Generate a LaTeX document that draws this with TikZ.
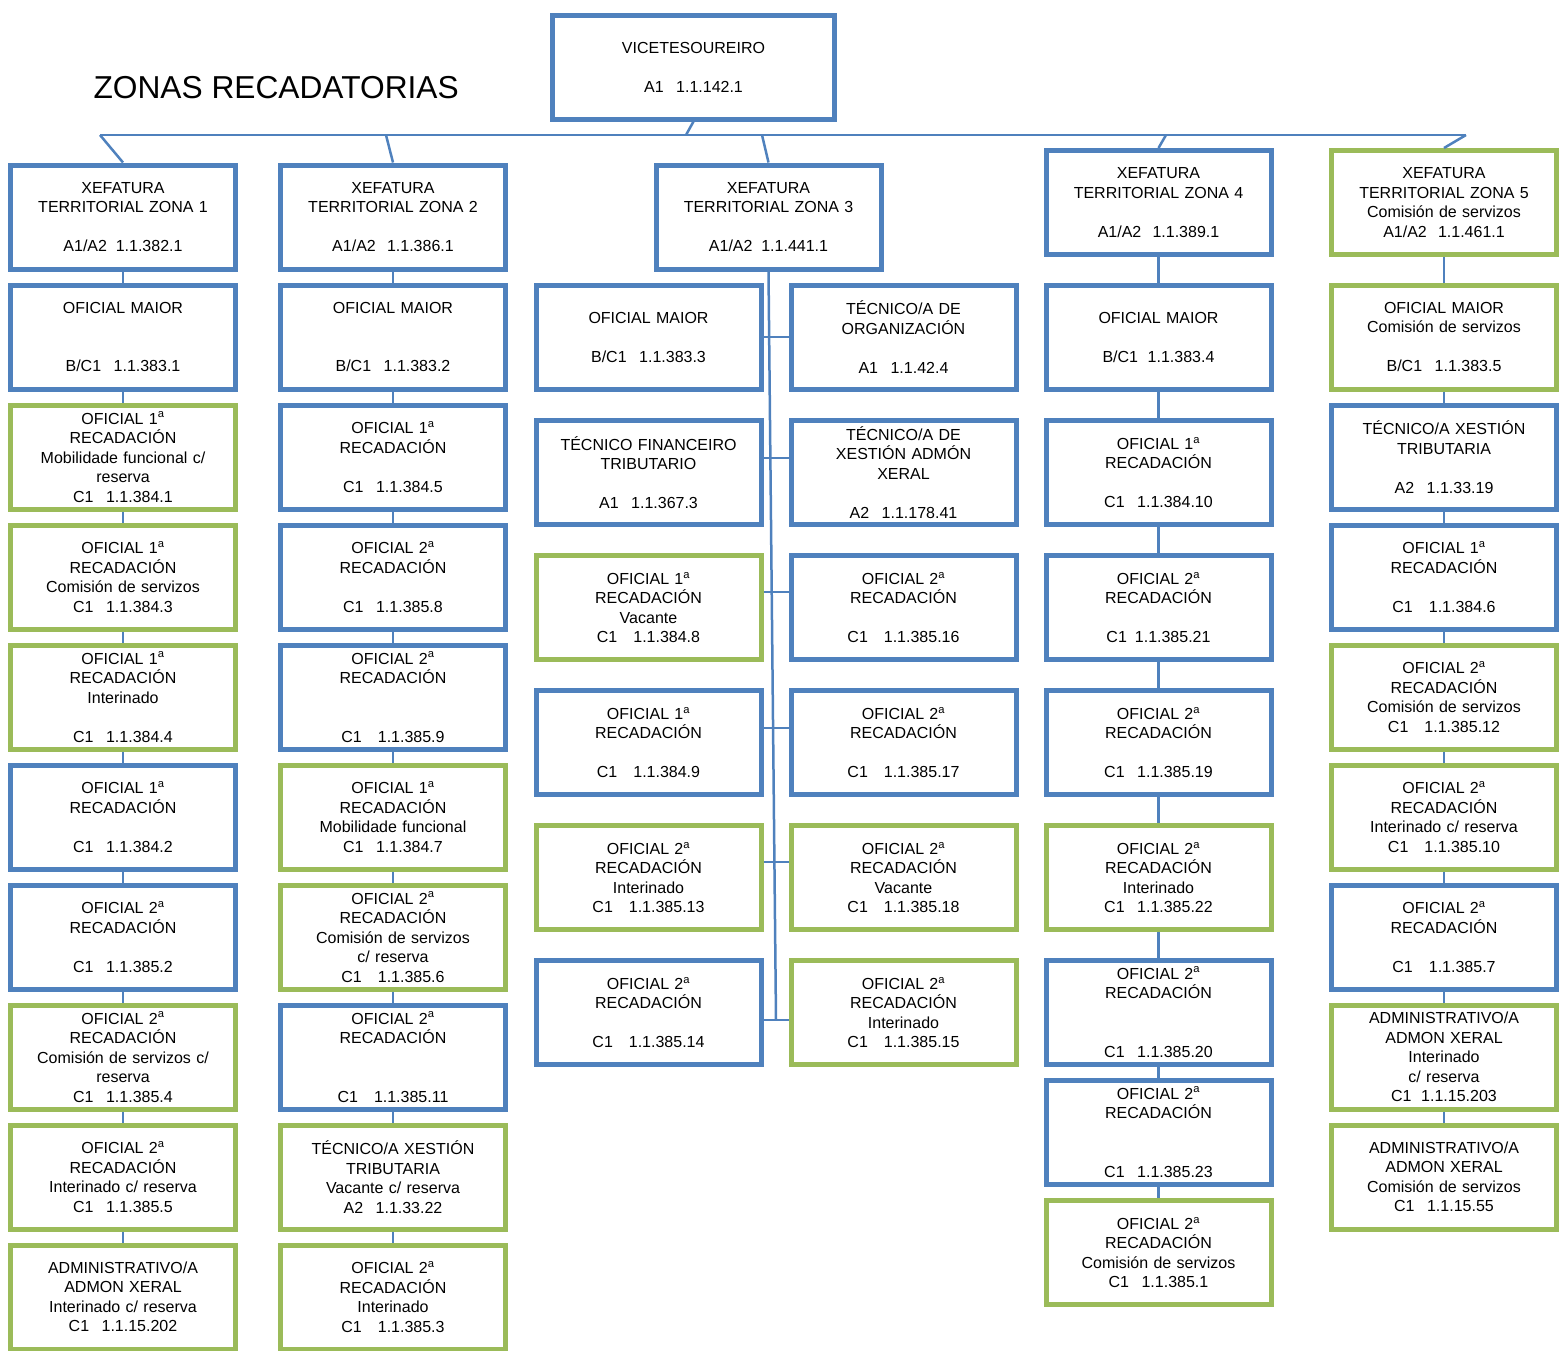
\documentclass[tikz,border=0pt]{standalone}
\usepackage{fontspec}
\setmainfont{Liberation Sans}

\definecolor{blu}{HTML}{4F81BD}
\definecolor{grn}{HTML}{9BBB59}

\newcommand\boxfont{\fontsize{16pt}{19.5pt}\selectfont}
\newcommand\ttlfont{\fontsize{31.7pt}{38pt}\selectfont}
\newcommand\cod[3][0.78em]{#2\hspace{#1}#3}
\newcommand\ofI{OFICIAL 1\textsuperscript{a}\\RECADACIÓN}
\newcommand\ofII{OFICIAL 2\textsuperscript{a}\\RECADACIÓN}

\begin{document}
\begin{tikzpicture}[x=1pt, y=-1pt,
  blubox/.style={rectangle, draw=blu, line width=5pt, minimum width=225pt, minimum height=104pt,
    inner sep=0pt, text width=222pt, align=center, font=\boxfont},
  grnbox/.style={blubox, draw=grn},
  link/.style={draw=blu, line width=2.5pt}]

\useasboundingbox (0,0) rectangle (1563,1350);

\node[anchor=base west, font=\ttlfont] (ttl) at (90,98) {ZONAS RECADATORIAS};
\node[blubox, minimum width=282pt] (0) at (693.5,67) {VICETESOUREIRO\\~\\\cod{A1}{1.1.142.1}};

\node[blubox] (10) at (123,217) {XEFATURA\\TERRITORIAL ZONA 1\\~\\\cod[0.55em]{A1/A2}{1.1.382.1}};
\node[blubox] (11) at (123,337) {OFICIAL MAIOR\\~\\~\\\cod{B/C1}{1.1.383.1}};
\node[grnbox] (12) at (123,457) {\ofI\\Mobilidade funcional c/\\reserva\\\cod{C1}{1.1.384.1}};
\node[grnbox] (13) at (123,577) {\ofI\\Comisión de servizos\\\cod{C1}{1.1.384.3}};
\node[grnbox] (14) at (123,697) {\ofI\\Interinado\\~\\\cod{C1}{1.1.384.4}};
\node[blubox] (15) at (123,817) {\ofI\\~\\\cod{C1}{1.1.384.2}};
\node[blubox] (16) at (123,937) {\ofII\\~\\\cod{C1}{1.1.385.2}};
\node[grnbox] (17) at (123,1057) {\ofII\\Comisión de servizos c/\\reserva\\\cod{C1}{1.1.385.4}};
\node[grnbox] (18) at (123,1177) {\ofII\\Interinado c/ reserva\\\cod{C1}{1.1.385.5}};
\node[grnbox] (19) at (123,1297) {ADMINISTRATIVO/A\\ADMON XERAL\\Interinado c/ reserva\\\cod{C1}{1.1.15.202}};

\node[blubox] (20) at (393,217) {XEFATURA\\TERRITORIAL ZONA 2\\~\\\cod[0.7em]{A1/A2}{1.1.386.1}};
\node[blubox] (21) at (393,337) {OFICIAL MAIOR\\~\\~\\\cod{B/C1}{1.1.383.2}};
\node[blubox] (22) at (393,457) {\ofI\\~\\\cod{C1}{1.1.384.5}};
\node[blubox] (23) at (393,577) {\ofII\\~\\\cod{C1}{1.1.385.8}};
\node[blubox] (24) at (393,697) {\ofII\\~\\~\\\cod[1em]{C1}{1.1.385.9}};
\node[grnbox] (25) at (393,817) {\ofI\\Mobilidade funcional\\\cod{C1}{1.1.384.7}};
\node[grnbox] (26) at (393,937) {\ofII\\Comisión de servizos\\c/ reserva\\\cod[1em]{C1}{1.1.385.6}};
\node[blubox] (27) at (393,1057) {\ofII\\~\\~\\\cod[1em]{C1}{1.1.385.11}};
\node[grnbox] (28) at (393,1177) {TÉCNICO/A XESTIÓN\\TRIBUTARIA\\Vacante c/ reserva\\\cod{A2}{1.1.33.22}};
\node[grnbox] (29) at (393,1297) {\ofII\\Interinado\\\cod[1em]{C1}{1.1.385.3}};

\node[blubox] (30) at (768.5,217) {XEFATURA\\TERRITORIAL ZONA 3\\~\\\cod[0.55em]{A1/A2}{1.1.441.1}};
\node[blubox] (31) at (648.5,337) {OFICIAL MAIOR\\~\\\cod{B/C1}{1.1.383.3}};
\node[blubox] (32) at (648.5,472.5) {TÉCNICO FINANCEIRO\\TRIBUTARIO\\~\\\cod{A1}{1.1.367.3}};
\node[grnbox] (33) at (648.5,607.5) {\ofI\\Vacante\\\cod[1em]{C1}{1.1.384.8}};
\node[blubox] (34) at (648.5,742.5) {\ofI\\~\\\cod[1em]{C1}{1.1.384.9}};
\node[grnbox] (35) at (648.5,877.5) {\ofII\\Interinado\\\cod[1em]{C1}{1.1.385.13}};
\node[blubox] (36) at (648.5,1012.5) {\ofII\\~\\\cod[1em]{C1}{1.1.385.14}};
\node[blubox] (41) at (903.5,337) {TÉCNICO/A DE\\ORGANIZACIÓN\\~\\\cod{A1}{1.1.42.4}};
\node[blubox] (42) at (903.5,472.5) {TÉCNICO/A DE\\XESTIÓN ADMÓN\\XERAL\\~\\\cod{A2}{1.1.178.41}};
\node[blubox] (43) at (903.5,607.5) {\ofII\\~\\\cod[1em]{C1}{1.1.385.16}};
\node[blubox] (44) at (903.5,742.5) {\ofII\\~\\\cod[1em]{C1}{1.1.385.17}};
\node[grnbox] (45) at (903.5,877.5) {\ofII\\Vacante\\\cod[1em]{C1}{1.1.385.18}};
\node[grnbox] (46) at (903.5,1012.5) {\ofII\\Interinado\\\cod[1em]{C1}{1.1.385.15}};

\node[blubox] (50) at (1158.5,202.5) {XEFATURA\\TERRITORIAL ZONA 4\\~\\\cod[0.7em]{A1/A2}{1.1.389.1}};
\node[blubox] (51) at (1158.5,337) {OFICIAL MAIOR\\~\\\cod[0.6em]{B/C1}{1.1.383.4}};
\node[blubox] (52) at (1158.5,472.5) {\ofI\\~\\\cod{C1}{1.1.384.10}};
\node[blubox] (53) at (1158.5,607.5) {\ofII\\~\\\cod[0.5em]{C1}{1.1.385.21}};
\node[blubox] (54) at (1158.5,742.5) {\ofII\\~\\\cod{C1}{1.1.385.19}};
\node[grnbox] (55) at (1158.5,877.5) {\ofII\\Interinado\\\cod{C1}{1.1.385.22}};
\node[blubox] (56) at (1158.5,1012) {\ofII\\~\\~\\\cod{C1}{1.1.385.20}};
\node[blubox] (57) at (1158.5,1132) {\ofII\\~\\~\\\cod{C1}{1.1.385.23}};
\node[grnbox] (58) at (1158.5,1252.5) {\ofII\\Comisión de servizos\\\cod{C1}{1.1.385.1}};

\node[grnbox] (60) at (1444,202.5) {XEFATURA\\TERRITORIAL ZONA 5\\Comisión de servizos\\\cod[0.7em]{A1/A2}{1.1.461.1}};
\node[grnbox] (61) at (1444,337) {OFICIAL MAIOR\\Comisión de servizos\\~\\\cod{B/C1}{1.1.383.5}};
\node[blubox] (62) at (1444,457) {TÉCNICO/A XESTIÓN\\TRIBUTARIA\\~\\\cod{A2}{1.1.33.19}};
\node[blubox] (63) at (1444,577) {\ofI\\~\\\cod[1em]{C1}{1.1.384.6}};
\node[grnbox] (64) at (1444,697) {\ofII\\Comisión de servizos\\\cod[1em]{C1}{1.1.385.12}};
\node[grnbox] (65) at (1444,817) {\ofII\\Interinado c/ reserva\\\cod[1em]{C1}{1.1.385.10}};
\node[blubox] (66) at (1444,937) {\ofII\\~\\\cod[1em]{C1}{1.1.385.7}};
\node[grnbox] (67) at (1444,1057) {ADMINISTRATIVO/A\\ADMON XERAL\\Interinado\\c/ reserva\\\cod[0.6em]{C1}{1.1.15.203}};
\node[grnbox] (68) at (1444,1177) {ADMINISTRATIVO/A\\ADMON XERAL\\Comisión de servizos\\\cod{C1}{1.1.15.55}};

% bus under the vicetesoureiro
\coordinate (bl) at (100,135);
\coordinate (br) at (1466,135);
\coordinate (b0) at (686,135);
\coordinate (b2) at (386,135);
\coordinate (b3) at (762,135);
\coordinate (b5) at (1166,135);
\draw[link] (bl) -- (br);
\draw[link] (0.south) -- (b0);
\draw[link] (bl) -- (10.north);
\draw[link] (b2) -- (20.north);
\draw[link] (b3) -- (30.north);
\draw[link] (b5) -- (50.north);
\draw[link] (br) -- (60.north);

\foreach \s/\e in {10/18, 20/28, 50/57, 60/67}
  \foreach \a in {\s,...,\e} {
    \pgfmathtruncatemacro\b{\a+1}
    \draw[link] (\a.south) -- (\b.north);
  }

% zona 3
\coordinate (sp) at (776,1020);
\draw[link] (30.south) -- (sp);
\draw[link] (31.east) -- (41.west);
\draw[link] ([yshift=14.5pt]32.east) -- ([yshift=14.5pt]42.west);
\draw[link] ([yshift=15.5pt]33.east) -- ([yshift=15.5pt]43.west);
\draw[link] ([yshift=14.5pt]34.east) -- ([yshift=14.5pt]44.west);
\draw[link] ([yshift=15.5pt]35.east) -- ([yshift=15.5pt]45.west);
\draw[link] ([yshift=-7.5pt]36.east) -- ([yshift=-7.5pt]46.west);

\end{tikzpicture}
\end{document}
